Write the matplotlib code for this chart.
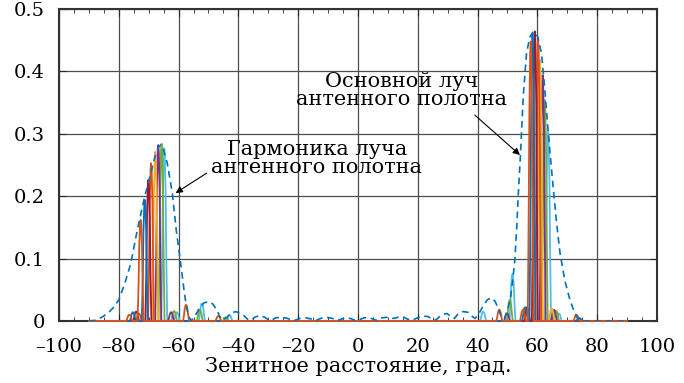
import matplotlib
matplotlib.use('Agg')
import matplotlib.pyplot as plt
import numpy as np
from matplotlib.ticker import MultipleLocator

# ── Pattern envelope of the antenna array (dashed) ──────────────────
env_x = [-90, -88, -86.5, -85, -83.3, -81.5, -80, -78, -76, -73.8, -71.6,
         -69.3, -67.8, -66.8, -66, -65, -63.8, -62.1, -60.8, -59.3, -58.2,
         -57.4, -56.6, -55.8, -55, -54, -53, -51.5, -50, -48.5, -47.2,
         -46.2, -45.2, -44, -42.5, -41, -39.5, -38, -36.8, -35.8, -34.5,
         -32.8, -31.2, -30, -29, -27.5, -25.5, -23.5, -22, -21, -19.5,
         -17.5, -15.5, -14, -12.5, -10.5, -8.5, -7, -6, -4.5, -2.5, -1,
         0.5, 2, 4, 5.5, 6.5, 8, 10, 12, 13.5, 15, 16.5, 18, 19.5, 21.5,
         23.5, 25, 26.2, 28, 29.8, 31.3, 32.3, 33.6, 35.2, 36.8, 38, 39.2,
         40.5, 42, 43.3, 44.5, 45.8, 46.8, 47.7, 48.4, 49, 49.6, 50.4, 51.1,
         51.8, 52.5, 53.1, 53.6, 54.4, 55.3, 56.4, 57.5, 58.5, 59.2, 60.2,
         61.4, 62.5, 63.6, 64.4, 65.3, 66.4, 67.6, 69.2, 70.9, 72.6, 73.5,
         74.5, 90]
env_y = [0.0, 0.001, 0.004, 0.008, 0.014, 0.023, 0.034, 0.060, 0.092, 0.146,
         0.194, 0.237, 0.265, 0.278, 0.282, 0.274, 0.253, 0.205, 0.146,
         0.092, 0.050, 0.023, 0.007, 0.001, 0.004, 0.012, 0.021, 0.029,
         0.031, 0.027, 0.017, 0.007, 0.001, 0.005, 0.012, 0.015, 0.013,
         0.008, 0.002, 0.001, 0.006, 0.009, 0.006, 0.002, 0.001, 0.005,
         0.006, 0.004, 0.001, 0.001, 0.004, 0.005, 0.003, 0.001, 0.004,
         0.006, 0.004, 0.001, 0.002, 0.005, 0.004, 0.001, 0.002, 0.005,
         0.005, 0.002, 0.001, 0.005, 0.006, 0.004, 0.006, 0.007, 0.003,
         0.001, 0.004, 0.008, 0.007, 0.002, 0.002, 0.010, 0.012, 0.006,
         0.004, 0.012, 0.015, 0.014, 0.008, 0.004, 0.012, 0.025, 0.034,
         0.037, 0.032, 0.022, 0.010, 0.003, 0.004, 0.012, 0.024, 0.039,
         0.066, 0.098, 0.148, 0.199, 0.269, 0.360, 0.429, 0.455, 0.4625,
         0.4635, 0.455, 0.429, 0.372, 0.306, 0.262, 0.215, 0.160, 0.109,
         0.065, 0.034, 0.012, 0.004, 0.0, 0.0]

# ── Individual steered beams (one colour per beam) ──────────────────
beam_colors = ['#D95319', '#0072BD', '#A2142F', '#D95319',
               '#EDB120', '#7E2F8E', '#77AC30', '#4DBEEE']
main_centers = [57.8, 58.4, 59.2, 60.3, 60.9, 61.8, 62.5, 63.6]
main_heights = [0.448, 0.461, 0.464, 0.450, 0.418, 0.394, 0.354, 0.306]
harm_centers = [-72.7, -71.3, -70.1, -69.2, -67.8, -66.8, -65.7, -64.8]
harm_heights = [0.162, 0.194, 0.226, 0.253, 0.271, 0.282, 0.284, 0.277]

# small side lobes of the beams: position, height, beam index
lobe_x = [-76.5, -75.3, -74.2, -73.3, -62.5, -61.5, -60.6, -57.5, -52.9,
          -52.2, -46.7, -44.2, -43.0, 41.9, 47.3, 49.9, 50.8, 51.7, 55.2,
          55.9, 56.6, 64.8, 65.6, 66.3, 67.2, 73.1, 74.0]
lobe_h = [0.010, 0.014, 0.015, 0.012, 0.014, 0.016, 0.014, 0.026, 0.018,
          0.028, 0.008, 0.006, 0.010, 0.015, 0.018, 0.012, 0.034, 0.075,
          0.018, 0.022, 0.022, 0.020, 0.018, 0.016, 0.012, 0.010, 0.005]
lobe_beam = [0, 1, 2, 3, 5, 6, 7, 0, 6, 7, 0, 6, 7, 7, 0, 5, 6, 7, 0, 1, 2,
             4, 5, 6, 7, 0, 1]

# shape of a single narrow beam (offset in degrees, relative level)
profile_dx = [-1.0, -0.7, -0.45, -0.18, 0.0, 0.18, 0.45, 0.7, 1.0]
profile_rel = [0.0, 0.35, 0.75, 0.96, 1.0, 0.96, 0.75, 0.35, 0.0]

# axis ticks
x_ticks = [-100, -80, -60, -40, -20, 0, 20, 40, 60, 80, 100]
x_ticklabels = ['–100', '–80', '–60', '–40', '–20', '0',
                '20', '40', '60', '80', '100']
y_ticks = [0, 0.1, 0.2, 0.3, 0.4, 0.5]
y_ticklabels = ['0', '0.1', '0.2', '0.3', '0.4', '0.5']

# text labels and where their arrows go
harm_label = 'Гармоника луча\nантенного полотна'
harm_text_xy = (-13.7, 0.260)
harm_arrow = ((-50.6, 0.237), (-61.0, 0.205))
main_label = 'Основной луч\nантенного полотна'
main_text_xy = (14.7, 0.369)
main_arrow = ((39.1, 0.330), (54.2, 0.266))

plt.rcParams['font.family'] = ['DejaVu Serif']
plt.rcParams['mathtext.fontset'] = 'dejavuserif'

fig = plt.figure(figsize=(6.84, 3.83), dpi=100)
ax = fig.add_axes((0.0863, 0.162, 0.874, 0.8145))

dx = np.array(profile_dx)
rel = np.array(profile_rel)
# drawn in reverse so that the first beam ends up on top along zero
for i in reversed(range(len(beam_colors))):
    pts = [(-90.0, 0.0), (90.0, 0.0)]
    for c, h in ((harm_centers[i], harm_heights[i]),
                 (main_centers[i], main_heights[i])):
        pts += list(zip(c + dx, h * rel))
    for x, h, b in zip(lobe_x, lobe_h, lobe_beam):
        if b == i:
            pts += list(zip(x + dx, h * rel))
    pts.sort(key=lambda p: p[0])
    xs, ys = zip(*pts)
    ax.plot(xs, ys, color=beam_colors[i], lw=1.3, zorder=3, clip_on=False)

ax.plot(env_x, env_y, color='#0072BD', lw=1.2, ls=(0, (4, 2.8)), zorder=4)

for label, txy in ((harm_label, harm_text_xy), (main_label, main_text_xy)):
    ax.text(*txy, label, ha='center', va='center', fontsize=15,
            linespacing=0.92)
for start, end in (harm_arrow, main_arrow):
    ax.annotate('', xy=end, xytext=start,
                arrowprops=dict(arrowstyle='-|>', color='black', lw=0.8,
                                mutation_scale=10, shrinkA=0, shrinkB=0))

ax.set_xlim(-100, 100)
ax.set_ylim(0, 0.5)
ax.set_xticks(x_ticks)
ax.set_xticklabels(x_ticklabels)
ax.set_yticks(y_ticks)
ax.set_yticklabels(y_ticklabels)
ax.xaxis.set_minor_locator(MultipleLocator(5))
ax.tick_params(which='both', direction='in', top=True, right=True,
               labelsize=14, color='#262626')
ax.tick_params(axis='x', pad=12)
ax.tick_params(axis='y', pad=10)
ax.tick_params(which='major', length=5)
ax.tick_params(which='minor', length=3)
ax.grid(True, color='#4d4d4d', lw=0.9)
ax.set_axisbelow(True)
for s in ax.spines.values():
    s.set_linewidth(1.5)
    s.set_color('#333333')

ax.set_xlabel('Зенитное расстояние, град.', fontsize=15, labelpad=1)

fig.savefig('out.png', dpi=100)
